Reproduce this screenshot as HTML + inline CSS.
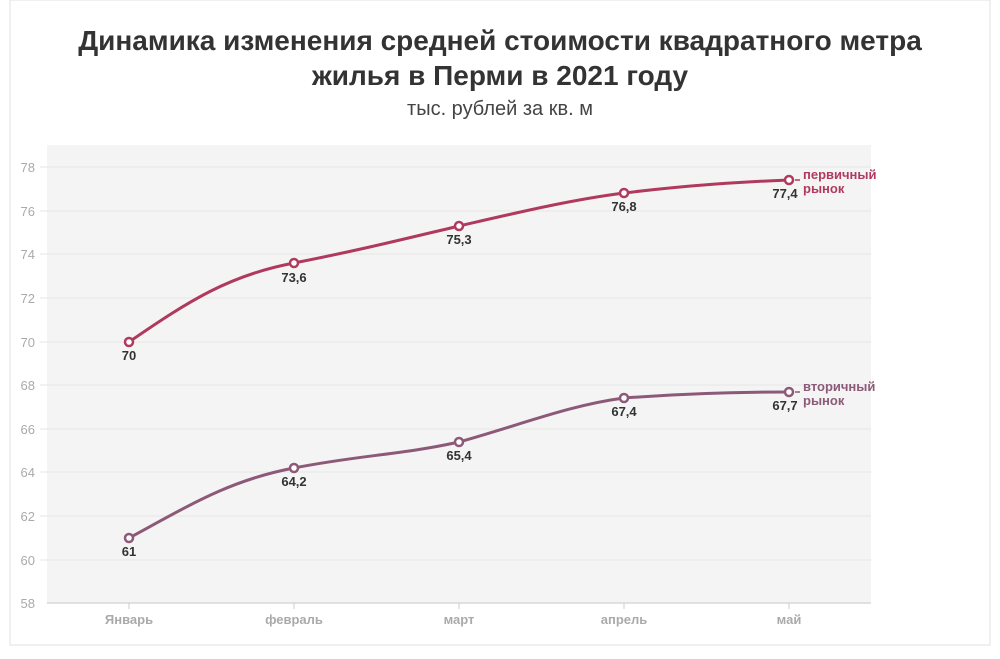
<!DOCTYPE html>
<html><head><meta charset="utf-8"><style>
body{margin:0;background:#fff;width:1000px;height:654px;overflow:hidden;font-family:"Liberation Sans","DejaVu Sans",sans-serif}
</style></head><body>
<svg width="1000" height="654" xmlns="http://www.w3.org/2000/svg" font-family="Liberation Sans, DejaVu Sans, sans-serif">
<rect x="10" y="0" width="980" height="645" fill="#fff" stroke="#e2e2e2"/>
<text x="500" y="50" text-anchor="middle" font-size="28" font-weight="bold" fill="#333">Динамика изменения средней стоимости квадратного метра</text>
<text x="500" y="85" text-anchor="middle" font-size="28" font-weight="bold" fill="#333">жилья в Перми в 2021 году</text>
<text x="500" y="115" text-anchor="middle" font-size="20" fill="#444">тыс. рублей за кв. м</text>
<rect x="47" y="145" width="824" height="458" fill="#f4f4f4"/>
<g stroke="#e6e6e6" stroke-width="1">
<line x1="40" x2="871" y1="167" y2="167"/><line x1="40" x2="871" y1="211" y2="211"/><line x1="40" x2="871" y1="254" y2="254"/><line x1="40" x2="871" y1="298" y2="298"/><line x1="40" x2="871" y1="342" y2="342"/><line x1="40" x2="871" y1="385" y2="385"/><line x1="40" x2="871" y1="429" y2="429"/><line x1="40" x2="871" y1="472" y2="472"/><line x1="40" x2="871" y1="516" y2="516"/><line x1="40" x2="871" y1="560" y2="560"/>
</g>
<line x1="47" x2="871" y1="603" y2="603" stroke="#d8d8d8" stroke-width="1.5"/>
<g stroke="#ccc"><line x1="129" x2="129" y1="603" y2="609"/><line x1="294" x2="294" y1="603" y2="609"/><line x1="459" x2="459" y1="603" y2="609"/><line x1="624" x2="624" y1="603" y2="609"/><line x1="789" x2="789" y1="603" y2="609"/></g>
<g font-size="13" fill="#aaa" text-anchor="end">
<text x="35" y="172">78</text><text x="35" y="216">76</text><text x="35" y="259">74</text><text x="35" y="303">72</text><text x="35" y="347">70</text><text x="35" y="390">68</text><text x="35" y="434">66</text><text x="35" y="477">64</text><text x="35" y="521">62</text><text x="35" y="565">60</text><text x="35" y="608">58</text>
</g>
<g font-size="13" fill="#aaa" font-weight="bold" text-anchor="middle">
<text x="129" y="624">Январь</text><text x="294" y="624">февраль</text><text x="459" y="624">март</text><text x="624" y="624">апрель</text><text x="789" y="624">май</text>
</g>
<path d="M129,342 C190,300 230,275 294,263 C360,250 400,240 459,226 C520,212 570,200 624,193 C690,185 740,182 789,180" fill="none" stroke="#b03a5e" stroke-width="3"/>
<path d="M129,538 C190,505 230,480 294,468 C360,455 400,455 459,442 C520,425 570,405 624,398 C690,393 740,392 789,392" fill="none" stroke="#8c5a78" stroke-width="3"/>
<g fill="#fff" stroke="#b03a5e" stroke-width="2.5">
<circle cx="129" cy="342" r="4"/><circle cx="294" cy="263" r="4"/><circle cx="459" cy="226" r="4"/><circle cx="624" cy="193" r="4"/><circle cx="789" cy="180" r="4"/></g>
<g fill="#fff" stroke="#8c5a78" stroke-width="2.5">
<circle cx="129" cy="538" r="4"/><circle cx="294" cy="468" r="4"/><circle cx="459" cy="442" r="4"/><circle cx="624" cy="398" r="4"/><circle cx="789" cy="392" r="4"/></g>
<g font-size="13" font-weight="bold" fill="#333" text-anchor="middle">
<text x="129" y="360">70</text><text x="294" y="282">73,6</text><text x="459" y="244">75,3</text><text x="624" y="211">76,8</text><text x="785" y="198">77,4</text>
<text x="129" y="556">61</text><text x="294" y="486">64,2</text><text x="459" y="460">65,4</text><text x="624" y="416">67,4</text><text x="785" y="410">67,7</text>
</g>
<line x1="795" x2="800" y1="180" y2="180" stroke="#b03a5e" stroke-width="1.5"/>
<line x1="795" x2="800" y1="392" y2="392" stroke="#8c5a78" stroke-width="1.5"/>
<g font-size="13" font-weight="bold">
<text x="803" y="179" fill="#b03a5e">первичный</text><text x="803" y="193" fill="#b03a5e">рынок</text>
<text x="803" y="391" fill="#8c5a78">вторичный</text><text x="803" y="405" fill="#8c5a78">рынок</text>
</g>
</svg>
</body></html>
